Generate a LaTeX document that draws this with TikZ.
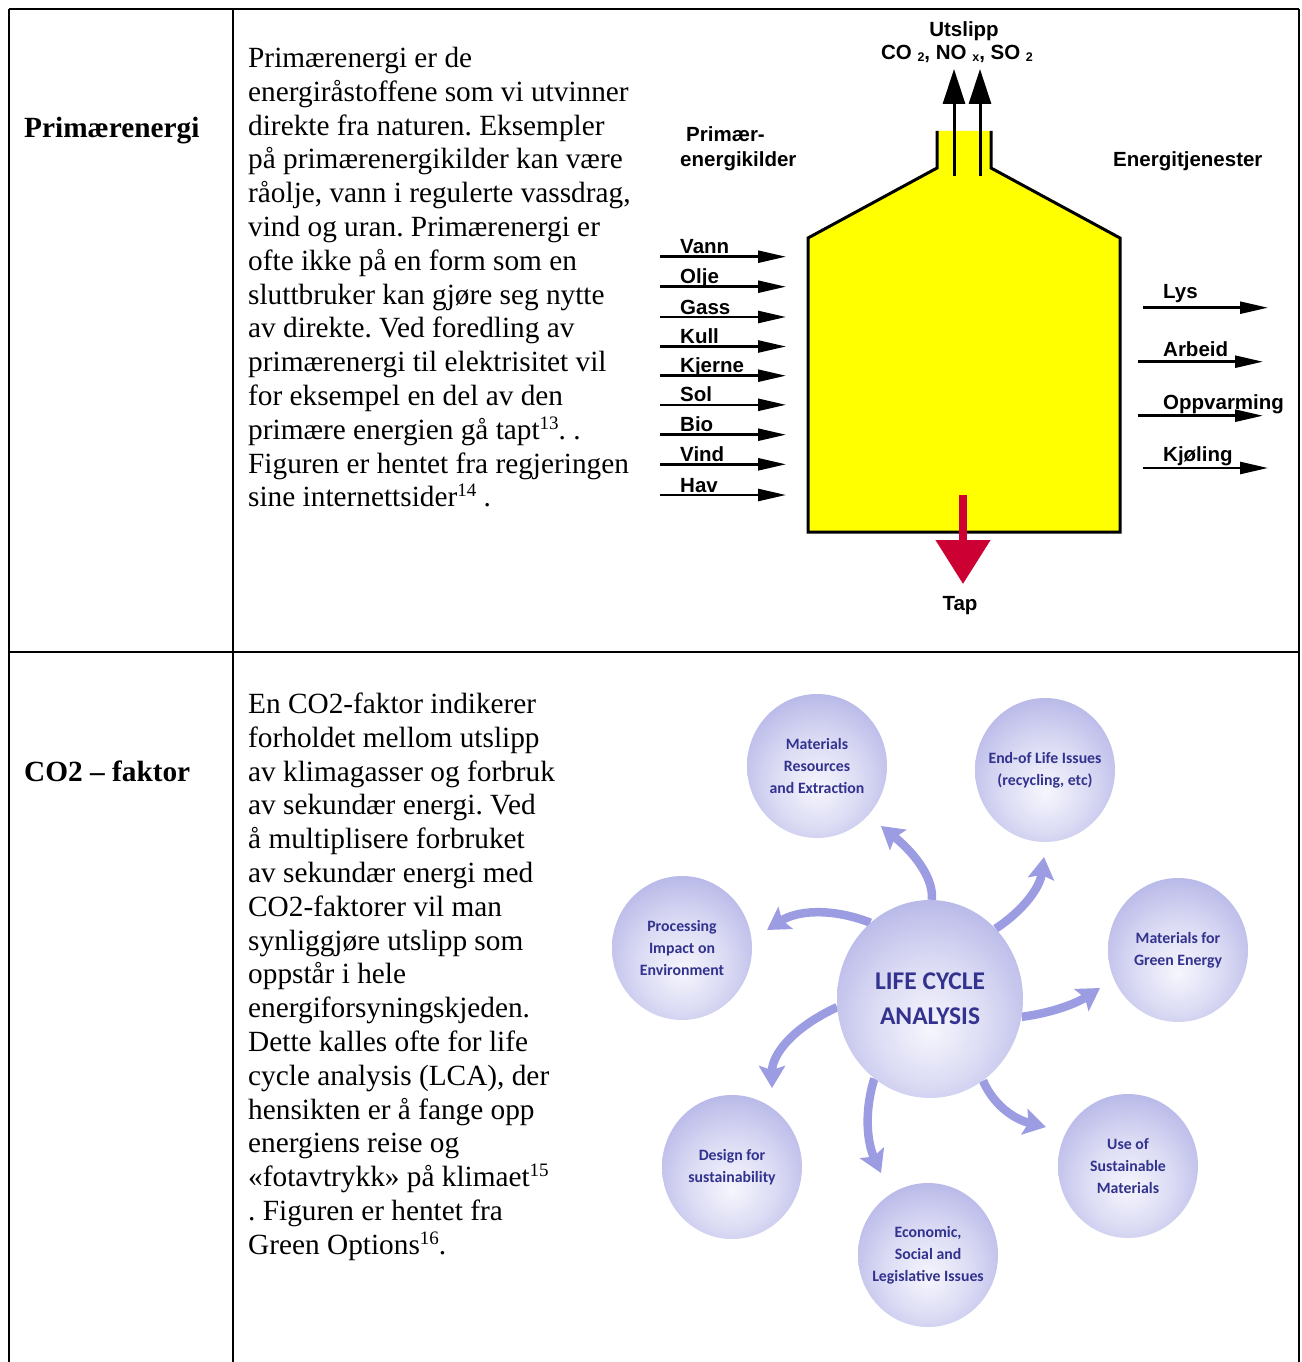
\documentclass[tikz,border=0pt]{standalone}
\usepackage{fontspec}
\setmainfont{Liberation Serif}
\setsansfont{Liberation Sans}
\newfontfamily\lcafont{Carlito}
\usetikzlibrary{arrows.meta,shapes.geometric,backgrounds}
\definecolor{tapred}{HTML}{CC0033}
\definecolor{lcatext}{HTML}{33338F}
\definecolor{lcaarrow}{HTML}{9C9CE2}
\definecolor{lcaC}{HTML}{F6F6FD}
\definecolor{lcaM}{HTML}{DADAF4}
\definecolor{lcaE}{HTML}{A6A6E2}
\definecolor{boxyellow}{HTML}{FFFF00}
\pgfdeclareradialshading{lcaball}{\pgfpoint{0bp}{-8bp}}{color(0bp)=(lcaC); color(16bp)=(lcaM); color(38bp)=(lcaE); color(70bp)=(lcaE)}
\newcommand\myssup[1]{\raisebox{10pt}{\fontsize{19}{19}\selectfont #1}}
\newcommand\mysub[1]{\raisebox{-2pt}{\fontsize{12.5}{12.5}\selectfont #1}}
\frenchspacing
\begin{document}
\begin{tikzpicture}[x=1pt,y=-1pt,
  bodytext/.style={anchor=base west, inner sep=0pt, font=\fontsize{29.3}{33.8}\selectfont},
  rowlabel/.style={anchor=base west, inner sep=0pt, font=\fontsize{29.3}{33.8}\selectfont\bfseries},
  elab/.style={anchor=base west, inner sep=0pt, font=\fontsize{20.5}{24}\selectfont\sffamily\bfseries},
  tablerule/.style={line width=2.5pt},
  flow/.style={line width=2.5pt, -{Triangle[length=28pt,width=12pt]}},
  upflow/.style={line width=3pt, -{Triangle[length=35pt,width=22pt]}},
  ball/.style={ellipse, minimum width=140pt, minimum height=144pt, inner sep=-14pt, shade, shading=lcaball,
    align=center, text=lcatext, font=\fontsize{15.8}{22}\selectfont\lcafont\bfseries},
  bigball/.style={ellipse, minimum width=186pt, minimum height=198pt, inner sep=0pt, shade, shading=lcaball,
    align=center, text=lcatext, font=\fontsize{25.5}{35}\selectfont\lcafont\bfseries},
  lcaarr/.style={line width=8.5pt, draw=lcaarrow, -{Stealth[length=22pt,width=26pt,inset=4pt]}}
]
\useasboundingbox (0,0) rectangle (1301,1362);

% table rules
\draw[tablerule] (9,9) -- (1299,9);
\draw[tablerule] (9,652) -- (1299,652);
\draw[tablerule] (9,9) -- (9,1362);
\draw[tablerule] (233,9) -- (233,1362);
\draw[tablerule] (1299,9) -- (1299,1362);

% row labels
\node[rowlabel] (lab1) at (24,137.5) {Primærenergi};
\node[rowlabel] (lab2) at (24,781.5) {CO2 – faktor};

% paragraph 1
\foreach \t [count=\i] in {
 {Primærenergi er de},
 {energiråstoffene som vi utvinner},
 {direkte fra naturen. Eksempler},
 {på primærenergikilder kan være},
 {råolje, vann i regulerte vassdrag,},
 {vind og uran. Primærenergi er},
 {ofte ikke på en form som en},
 {sluttbruker kan gjøre seg nytte},
 {av direkte. Ved foredling av},
 {primærenergi til elektrisitet vil},
 {for eksempel en del av den},
 {primære energien gå tapt\myssup{13}. .},
 {Figuren er hentet fra regjeringen},
 {sine internettsider\myssup{14} .}}
 { \node[bodytext] (pa\i) at (248,{67.5+33.8*(\i-1)}) {\t}; }

% paragraph 2
\foreach \t [count=\i] in {
 {En CO2-faktor indikerer},
 {forholdet mellom utslipp},
 {av klimagasser og forbruk},
 {av sekundær energi. Ved},
 {å multiplisere forbruket},
 {av sekundær energi med},
 {CO2-faktorer vil man},
 {synliggjøre utslipp som},
 {oppstår i hele},
 {energiforsyningskjeden.},
 {Dette kalles ofte for life},
 {cycle analysis (LCA), der},
 {hensikten er å fange opp},
 {energiens reise og},
 {«fotavtrykk» på klimaet\myssup{15}},
 {. Figuren er hentet fra},
 {Green Options\myssup{16}.}}
 { \node[bodytext] (pb\i) at (248,{713.5+33.8*(\i-1)}) {\t}; }

% ---------- energy diagram ----------
\path[fill=boxyellow] (937,131) -- (937,168) -- (808,238) -- (808,532) -- (1120,532) -- (1120,238) -- (991,168) -- (991,131) -- cycle;
\draw[line width=3pt] (937,131) -- (937,168) -- (808,238) -- (808,532) -- (1120,532) -- (1120,238) -- (991,168) -- (991,131);

\coordinate (u1s) at (954,176);
\coordinate (u1e) at (954,69);
\coordinate (u2s) at (980,176);
\coordinate (u2e) at (980,69);
\draw[upflow] (u1s) -- (u1e);
\draw[upflow] (u2s) -- (u2e);

\node[elab, anchor=base] (utsl) at (964,37) {Utslipp};
\node[elab, anchor=base] (gases) at (957,60) {CO \mysub{2}, NO \mysub{x}, SO \mysub{2}};
\node[elab] (src1) at (686,142) {Primær-};
\node[elab] (src2) at (680,166.5) {energikilder};
\node[elab] (serv) at (1113,166) {Energitjenester};

\foreach \lbl/\yy [count=\i] in {Vann/256.7, Olje/286.7, Gass/317, Kull/346.5, Kjerne/375.7, Sol/404.8, Bio/434.7, Vind/464.3, Hav/495}
{
  \coordinate (in\i s) at (660,\yy);
  \coordinate (in\i e) at (786,\yy);
  \draw[flow] (in\i s) -- (in\i e);
  \node[elab] (inl\i) at (680,{\yy-3}) {\lbl};
}

\foreach \lbl/\xa/\xb/\yy/\yb [count=\i] in {Lys/1143/1268/307.7/298, Arbeid/1138/1263/361.7/356, Oppvarming/1138/1263/415.7/409, Kjøling/1143/1268/468/461}
{
  \coordinate (out\i s) at (\xa,\yy);
  \coordinate (out\i e) at (\xb,\yy);
  \draw[flow] (out\i s) -- (out\i e);
  \node[elab] (outl\i) at (1163,\yb) {\lbl};
}

\coordinate (taps) at (963,495);
\coordinate (tape) at (963,584);
\draw[line width=8pt, tapred, -{Triangle[length=44pt,width=53pt]}] (taps) -- (tape);
\node[elab, anchor=base] (tap) at (960,610) {Tap};

% ---------- LCA diagram ----------
\node[ball] (mre) at (817,766) {Materials\\Resources\\and Extraction};
\node[ball] (eol) at (1045,770) {End-of Life Issues\\(recycling, etc)};
\node[ball] (pie) at (682,948) {Processing\\Impact on\\Environment};
\node[ball] (mge) at (1178,950) {Materials for\\Green Energy};
\node[ball] (dfs) at (732,1167) {Design for\\sustainability};
\node[ball] (esl) at (928,1255) {Economic,\\Social and\\Legislative Issues};
\node[ball] (usm) at (1128,1166) {Use of\\Sustainable\\Materials};
\node[bigball] (lca) at (930,999) {LIFE CYCLE\\ANALYSIS};

\coordinate (t1) at (881,826);
\coordinate (t2) at (1044,857);
\coordinate (t3) at (767,930);
\coordinate (t4) at (1100,988);
\coordinate (t5) at (772,1088);
\coordinate (t6) at (881,1173);
\coordinate (t7) at (1046,1127);

\begin{scope}[on background layer]
\draw[lcaarr] (lca.89) .. controls (934,881) and (918,856) .. (t1);
\draw[lcaarr] (lca.47) .. controls (1024,910) and (1040,887) .. (t2);
\draw[lcaarr] (lca.128) .. controls (830,907) and (796,911) .. (t3);
\draw[lcaarr] (lca.-11) .. controls (1052,1013) and (1077,1003) .. (t4);
\draw[lcaarr] (lca.185) .. controls (792,1028) and (772,1055) .. (t5);
\draw[lcaarr] (lca.235) .. controls (864,1112) and (867,1142) .. (t6);
\draw[lcaarr] (lca.303) .. controls (993,1104) and (1013,1119) .. (t7);
\end{scope}
\end{tikzpicture}
\end{document}
